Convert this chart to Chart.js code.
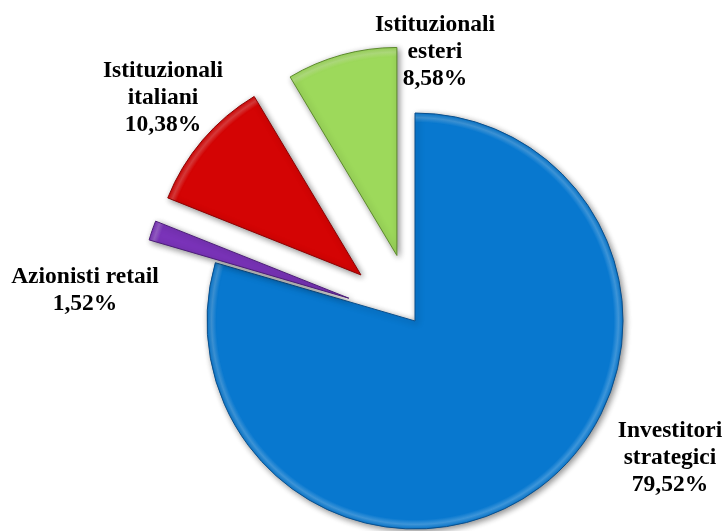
<!DOCTYPE html>
<html>
<head>
<meta charset="utf-8">
<script src="https://cdn.jsdelivr.net/npm/chart.js@4"></script>
<style>
  html, body { margin: 0; padding: 0; background: #fff; }
  #wrap { width: 724px; height: 531px; }
</style>
</head>
<body>
<div id="wrap"><canvas id="pie"></canvas></div>
<script>
// shareholder structure, percent
const categories = ['Investitori strategici', 'Azionisti retail', 'Istituzionali italiani', 'Istituzionali esteri'];
const shares = [79.52, 1.52, 10.38, 8.58];
const labelLines = [['Investitori', 'strategici'], ['Azionisti retail'], ['Istituzionali', 'italiani'], ['Istituzionali', 'esteri']];

// look
const fills = ['#0878cf', '#7a33b9', '#d40404', '#9dd95b'];
const edges = ['#0a4f8c', '#4c1d78', '#8c0202', '#5c8a2c'];
const explode = [0, 70, 71, 68];            // px pulled out along the slice middle
const labelAnchor = [[255, 116], [-330, -38], [-252, -244], [20, -290]]; // from pie centre
const RADIUS = 208;
const LINE_H = 27;

function lighten(hex, t) {
    const n = parseInt(hex.slice(1), 16);
    const r = (n >> 16) & 255, g = (n >> 8) & 255, b = n & 255;
    const m = c => Math.round(c + (255 - c) * t);
    return 'rgb(' + m(r) + ',' + m(g) + ',' + m(b) + ')';
}

function sliceCentre(chart, i) {
    const a = chart.chartArea;
    const total = shares.reduce((s, v) => s + v, 0);
    const before = shares.slice(0, i).reduce((s, v) => s + v, 0);
    const mid = -Math.PI / 2 + Math.PI * 2 * (before + shares[i] / 2) / total;
    return {
        x: (a.left + a.right) / 2 + Math.cos(mid) * explode[i],
        y: (a.top + a.bottom) / 2 + Math.sin(mid) * explode[i]
    };
}

// bevel: light rim just inside the outer edge
function sliceFill(context) {
    const chart = context.chart;
    const i = context.dataIndex;
    if (!chart.chartArea) return fills[i];
    const c = sliceCentre(chart, i);
    const g = chart.ctx.createRadialGradient(c.x, c.y, 0, c.x, c.y, RADIUS);
    g.addColorStop(0, fills[i]);
    g.addColorStop(0.955, fills[i]);
    g.addColorStop(0.978, lighten(fills[i], 0.22));
    g.addColorStop(1, fills[i]);
    return g;
}

const explodePlugin = {
    id: 'explode',
    beforeDatasetsDraw(chart) {
        const meta = chart.getDatasetMeta(0);
        meta.data.forEach((arc, i) => {
            const c = sliceCentre(chart, i);
            arc.x = c.x;
            arc.y = c.y;
        });
        const ctx = chart.ctx;
        ctx.save();
        ctx.shadowColor = 'rgba(0,0,0,0.45)';
        ctx.shadowBlur = 6;
        ctx.shadowOffsetX = 2;
        ctx.shadowOffsetY = 2;
    },
    afterDatasetsDraw(chart) {
        chart.ctx.restore();
    }
};

const labelPlugin = {
    id: 'sliceLabels',
    afterDraw(chart) {
        const a = chart.chartArea;
        const cx = (a.left + a.right) / 2, cy = (a.top + a.bottom) / 2;
        const ctx = chart.ctx;
        ctx.save();
        ctx.font = 'bold 23.5px "Liberation Serif", "Times New Roman", serif';
        ctx.fillStyle = '#000';
        ctx.textAlign = 'center';
        ctx.textBaseline = 'alphabetic';
        shares.forEach((v, i) => {
            const lines = labelLines[i].concat(v.toFixed(2).replace('.', ',') + '%');
            lines.forEach((t, k) => {
                ctx.fillText(t, cx + labelAnchor[i][0], cy + labelAnchor[i][1] + k * LINE_H);
            });
        });
        ctx.restore();
    }
};

new Chart(document.getElementById('pie'), {
    type: 'pie',
    data: {
        labels: categories,
        datasets: [{
            data: shares,
            backgroundColor: sliceFill,
            borderColor: edges,
            borderWidth: 1
        }]
    },
    options: {
        responsive: true,
        maintainAspectRatio: false,
        animation: false,
        events: [],
        radius: RADIUS,
        layout: { padding: { left: 106, right: 0, top: 111, bottom: 0 } },
        plugins: { legend: { display: false }, tooltip: { enabled: false } }
    },
    plugins: [explodePlugin, labelPlugin]
});
</script>
</body>
</html>
